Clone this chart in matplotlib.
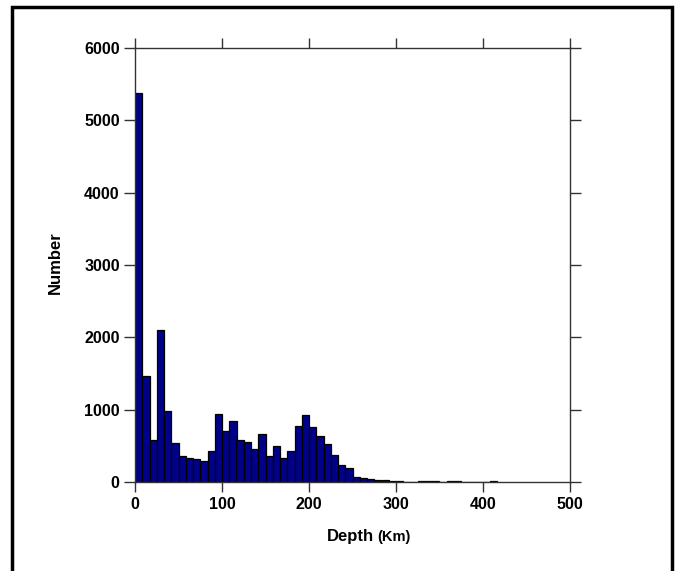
import matplotlib.pyplot as plt
from matplotlib.patches import Rectangle

plt.rcParams['font.family'] = ['Liberation Sans', 'DejaVu Sans']

# earthquake depth histogram, bins of 100/12 km
bin_width = 100 / 12
counts = [5380, 1465, 580, 2100, 986, 535, 364, 332, 318, 290,
          424, 944, 710, 841, 580, 555, 452, 668, 364, 493,
          336, 422, 779, 926, 765, 636, 523, 375, 235, 200,
          74, 53, 37, 28, 22, 18, 8, 5, 0, 8,
          10, 8, 3, 8, 8, 2, 0, 2, 3, 10]
bin_left = [i * bin_width for i in range(len(counts))]

x_ticks = [0, 100, 200, 300, 400, 500]
y_ticks = [0, 1000, 2000, 3000, 4000, 5000, 6000]

fig = plt.figure(figsize=(6.8, 5.71), dpi=100)
ax = fig.add_axes([135 / 680, 1 - 482 / 571, 435 / 680, 434 / 571])

ax.bar(bin_left, counts, width=bin_width, align='edge',
       color='#000088', edgecolor='black', linewidth=0.9)

ax.set_xlim(0, 500)
ax.set_ylim(0, 6000)
ax.set_xticks(x_ticks)
ax.set_yticks(y_ticks)
ax.set_xticklabels([str(v) for v in x_ticks], fontsize=11.5, fontweight='bold')
ax.set_yticklabels([str(v) for v in y_ticks], fontsize=11.5, fontweight='bold')

ax.tick_params(axis='x', direction='out', length=7, width=1, color='#333333',
               top=True, labeltop=False, pad=4)
ax.tick_params(axis='y', direction='out', length=8, width=1, color='#333333',
               right=True, labelright=False, pad=3)
for sp in ax.spines.values():
    sp.set_color('#333333')
    sp.set_linewidth(1)

fig.text(55 / 680, 1 - 263 / 571, 'Number', rotation=90, ha='center',
         va='center', fontsize=12, fontweight='bold')
fig.text(374 / 680, 1 - 541 / 571, 'Depth', ha='right', va='baseline',
         fontsize=12, fontweight='bold')
fig.text(377 / 680, 1 - 541 / 571, '(Km)', ha='left', va='baseline',
         fontsize=10.5, fontweight='bold')

# outer frame around the figure
frame = Rectangle((12 / 680, -0.2), 660 / 680, 1.2 - 7 / 571,
                  transform=fig.transFigure, fill=False,
                  edgecolor='black', linewidth=2.5, clip_on=False)
fig.patches.append(frame)

fig.savefig('out.png', dpi=100)
